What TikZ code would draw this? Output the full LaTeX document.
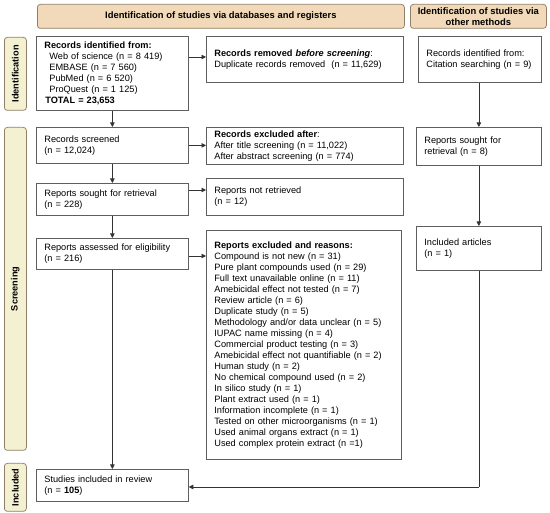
\documentclass[tikz,border=0pt]{standalone}
\usepackage{fontspec}
\setmainfont{Liberation Sans}
\usetikzlibrary{arrows.meta}
\definecolor{hdrfill}{HTML}{F1D9B9}
\definecolor{hdrdraw}{HTML}{8E7F66}
\definecolor{sidefill}{HTML}{F3F1D2}
\definecolor{boxdraw}{HTML}{5E5E5E}
\definecolor{arr}{HTML}{333333}
\begin{document}
\begin{tikzpicture}[x=1pt,y=-1pt,
  box/.style={draw=boxdraw, line width=0.75pt, fill=white, anchor=north west, align=left,
    inner xsep=8pt, inner ysep=1pt, font=\fontsize{9.2}{11}\selectfont},
  hdr/.style={draw=hdrdraw, line width=0.75pt, fill=hdrfill, rounded corners=3pt, anchor=north west,
    align=center, inner sep=1pt, font=\fontsize{9.4}{11}\selectfont\bfseries},
  side/.style={draw=hdrdraw, line width=0.75pt, fill=sidefill, rounded corners=3pt, anchor=north west,
    inner sep=0pt, minimum width=22pt},
  sidetext/.style={rotate=90, font=\fontsize{9.2}{10}\selectfont\bfseries},
  conn/.style={draw=arr, line width=0.7pt, -{Triangle[length=4.5pt,width=4.5pt]}},
  line/.style={draw=arr, line width=0.7pt}]
\useasboundingbox (0,0) rectangle (550,513);
% headers
\node[hdr, minimum width=367pt, minimum height=24pt] (h1) at (37,4) {Identification of studies via databases and registers};
\node[hdr, minimum width=136pt, minimum height=24pt] (h2) at (410,4) {Identification of studies via\\other methods};
% side labels
\node[side, minimum height=73pt] (s1) at (4,37) {};
\node[sidetext] (s1t) at (s1.center) {Identification};
\node[side, minimum height=323pt] (s2) at (4,127) {};
\node[sidetext] (s2t) at (s2.center) {Screening};
\node[side, minimum height=48pt] (s3) at (4,463) {};
\node[sidetext] (s3t) at (s3.center) {Included};
% left column
\node[box, text width=136pt, minimum height=74pt] (rid) at (36,36) {\textbf{Records identified from:}\\
\hspace*{5pt}Web of science (n = 8 419)\\
\hspace*{5pt}EMBASE (n = 7 560)\\
\hspace*{5pt}PubMed (n = 6 520)\\
\hspace*{5pt}ProQuest (n = 1 125)\\
\hspace*{1pt}\textbf{TOTAL = 23,653}};
\node[box, text width=136pt, minimum height=36pt] (rscr) at (36,127) {Records screened\\(n = 12,024)};
\node[box, text width=136pt, minimum height=32pt] (rsou) at (36,183) {Reports sought for retrieval\\(n = 228)};
\node[box, text width=136pt, minimum height=31pt] (rass) at (36,238) {Reports assessed for eligibility\\(n = 216)};
\node[box, text width=136pt, minimum height=32pt] (stud) at (36,469) {Studies included in review\\(n = \textbf{105})};
% middle column
\node[box, text width=181pt, minimum height=46pt] (rrem) at (206,36) {\textbf{Records removed \textit{before screening}}:\\Duplicate records removed\ \ (n = 11,629)};
\node[box, text width=181pt, minimum height=37pt] (rexc) at (206,127) {\textbf{Records excluded after}:\\After title screening (n = 11,022)\\After abstract screening (n = 774)};
\node[box, text width=181pt, minimum height=37pt] (rnot) at (206,178) {Reports not retrieved\\(n = 12)};
\node[box, text width=179pt, minimum height=229pt] (rexr) at (206,230) {\textbf{Reports excluded and reasons:}\\
Compound is not new (n = 31)\\
Pure plant compounds used (n = 29)\\
Full text unavailable online (n = 11)\\
Amebicidal effect not tested (n = 7)\\
Review article (n = 6)\\
Duplicate study (n = 5)\\
Methodology and/or data unclear (n = 5)\\
IUPAC name missing (n = 4)\\
Commercial product testing (n = 3)\\
Amebicidal effect not quantifiable (n = 2)\\
Human study (n = 2)\\
No chemical compound used (n = 2)\\
In silico study (n = 1)\\
Plant extract used (n = 1)\\
Information incomplete (n = 1)\\
Tested on other microorganisms (n = 1)\\
Used animal organs extract (n = 1)\\
Used complex protein extract (n =1)};
% right column
\node[box, text width=107pt, minimum height=46pt] (cit) at (418,36) {Records identified from:\\Citation searching (n = 9)};
\node[box, text width=109pt, minimum height=38pt] (soth) at (416,127) {Reports sought for\\retrieval (n = 8)};
\node[box, text width=109pt, minimum height=44pt] (incl) at (416,226) {Included articles\\(n = 1)};
\coordinate (corner) at (incl.south |- 0,487);
% connectors
\draw[conn] (rid.south) -- (rscr.north);
\draw[conn] (rscr.south) -- (rsou.north);
\draw[conn] (rsou.south) -- (rass.north);
\draw[conn] (rass.south) -- (stud.north);
\draw[conn] (rid.east |- 0,57) -- (rrem.west |- 0,57);
\draw[conn] (rscr.east) -- (rexc.west |- rscr.east);
\draw[conn] (rsou.east |- 0,190) -- (rnot.west |- 0,190);
\draw[conn] (rass.east |- 0,256) -- (rexr.west |- 0,256);
\draw[conn] (cit.south -| soth.north) -- (soth.north);
\draw[conn] (soth.south) -- (incl.north);
\draw[line] (incl.south) -- (corner);
\draw[conn] (corner) -- (stud.east |- corner);
\end{tikzpicture}
\end{document}
